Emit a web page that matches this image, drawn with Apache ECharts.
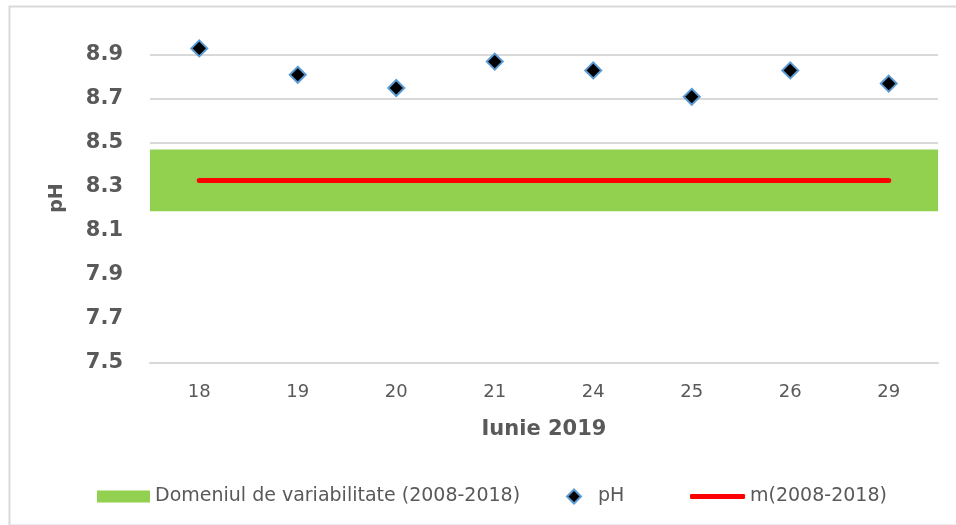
<!DOCTYPE html>
<html>
<head>
<meta charset="utf-8">
<script src="https://cdn.jsdelivr.net/npm/echarts@6/dist/echarts.min.js"></script>
<style>
html,body{margin:0;padding:0;background:#fff;}
#chart{width:956px;height:525px;}
</style>
</head>
<body>
<div id="chart"></div>
<script>
// ---- data ----
const categories = ['18', '19', '20', '21', '24', '25', '26', '29'];
const phValues = [8.93, 8.81, 8.75, 8.87, 8.83, 8.71, 8.83, 8.77];
const meanValues = [8.33, 8.33, 8.33, 8.33, 8.33, 8.33, 8.33, 8.33];
const bandLow = 8.19;
const bandHigh = 8.47;
const yTicks = [7.5, 7.7, 7.9, 8.1, 8.3, 8.5, 8.7, 8.9];
const yMin = 7.5;
const yMax = 9.0;

const nameBand = 'Domeniul de variabilitate (2008-2018)';
const namePH = 'pH';
const nameMean = 'm(2008-2018)';

const gray = '#595959';
const chart = echarts.init(document.getElementById('chart'));
chart.setOption({
  animation: false,
  backgroundColor: '#ffffff',
  graphic: [{
    type: 'rect',
    left: 7, top: 4,
    shape: { width: 970, height: 519 },
    style: { fill: 'none', stroke: '#d9d9d9', lineWidth: 2 },
    silent: true
  }],
  grid: { left: 150, right: 18, top: 33, bottom: 162 },
  xAxis: {
    type: 'category',
    data: categories,
    z: 5,
    axisLine: { show: true, lineStyle: { color: '#d9d9d9', width: 2 } },
    axisTick: { show: false },
    axisLabel: { color: gray, fontFamily: 'DejaVu Sans', fontSize: 18, margin: 20 },
    name: 'Iunie 2019',
    nameLocation: 'middle',
    nameGap: 56,
    nameTextStyle: { color: gray, fontFamily: 'DejaVu Sans', fontWeight: 'bold', fontSize: 21 }
  },
  yAxis: {
    type: 'value',
    min: yMin,
    max: yMax,
    axisLine: { show: false },
    axisTick: { show: false, customValues: yTicks },
    axisLabel: {
      customValues: yTicks,
      color: gray, fontFamily: 'DejaVu Sans', fontWeight: 'bold', fontSize: 21, margin: 27,
      formatter: v => v.toFixed(1)
    },
    splitLine: { show: true, lineStyle: { color: '#d9d9d9', width: 2 } },
    name: 'pH',
    nameLocation: 'middle',
    nameGap: 83,
    nameRotate: 90,
    nameTextStyle: { color: gray, fontFamily: 'DejaVu Sans', fontWeight: 'bold', fontSize: 19 }
  },
  legend: [
    {
      data: [{ name: nameBand, icon: 'rect' }],
      left: 97, top: 487, padding: 0,
      itemWidth: 53, itemHeight: 12,
      textStyle: { color: gray, fontFamily: 'DejaVu Sans', fontSize: 19 }
    },
    {
      data: [{ name: namePH, icon: 'diamond' }],
      left: 566, top: 487, padding: 0,
      itemWidth: 14, itemHeight: 14,
      textStyle: { color: gray, fontFamily: 'DejaVu Sans', fontSize: 19, padding: [0, 0, 0, 12] }
    },
    {
      data: [{ name: nameMean, icon: 'roundRect' }],
      left: 690, top: 487, padding: 0,
      itemWidth: 55, itemHeight: 5,
      itemStyle: { borderWidth: 0 },
      textStyle: { color: gray, fontFamily: 'DejaVu Sans', fontSize: 19 }
    }
  ],
  series: [
    {
      name: nameBand,
      type: 'line',
      data: [],
      itemStyle: { color: '#92d050' },
      lineStyle: { color: '#92d050' },
      z: 1,
      markArea: {
        silent: true,
        data: [
          [{ yAxis: yMin, itemStyle: { color: '#ffffff', opacity: 1 } }, { yAxis: bandLow }],
          [{ yAxis: bandLow, itemStyle: { color: '#92d050', opacity: 1 } }, { yAxis: bandHigh }]
        ]
      }
    },
    {
      name: nameMean,
      type: 'line',
      data: meanValues,
      symbol: 'none',
      z: 3,
      itemStyle: { color: '#ff0000' },
      lineStyle: { color: '#ff0000', width: 5, cap: 'round' }
    },
    {
      name: namePH,
      type: 'scatter',
      data: phValues,
      symbol: 'diamond',
      symbolSize: 16,
      z: 4,
      itemStyle: { color: '#000000', opacity: 1, borderColor: '#5b9bd5', borderWidth: 2 }
    }
  ]
});
</script>
</body>
</html>
